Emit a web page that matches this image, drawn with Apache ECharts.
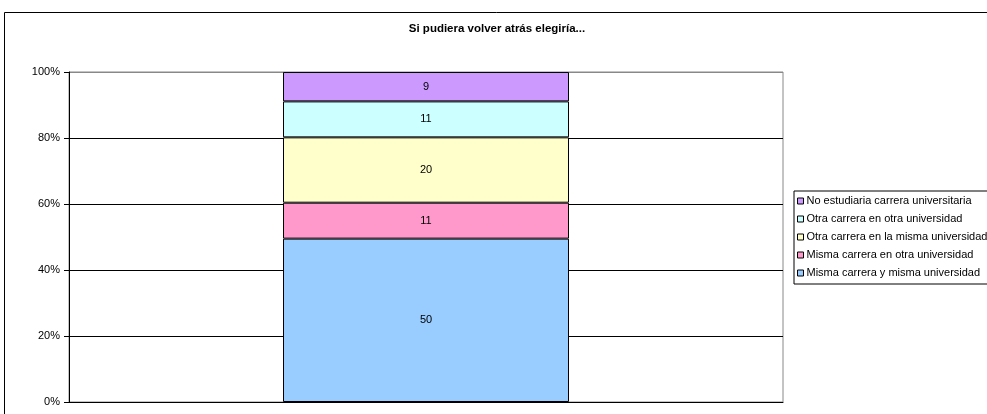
<!DOCTYPE html>
<html>
<head>
<meta charset="utf-8">
<script src="https://cdn.jsdelivr.net/npm/echarts@6/dist/echarts.min.js"></script>
<style>
html,body{margin:0;padding:0;background:#fff;}
#chart{width:987px;height:414px;}
</style>
</head>
<body>
<div id="chart"></div>
<script>
var titleText = 'Si pudiera volver atrás elegiría...';
var categories = [''];
var seriesNames = [
  'Misma carrera y misma universidad',
  'Misma carrera en otra universidad',
  'Otra carrera en la misma universidad',
  'Otra carrera en otra universidad',
  'No estudiaria carrera universitaria'
];
var seriesValues = [50, 11, 20, 11, 9];
var seriesColors = ['#99CCFF', '#FF99CC', '#FFFFCC', '#CCFFFF', '#CC99FF'];
var yTicks = [0, 20, 40, 60, 80, 100];

var total = seriesValues.reduce(function (a, b) { return a + b; }, 0);
var FONT = '"Liberation Sans", Arial, sans-serif';

var series = seriesNames.map(function (name, i) {
  return {
    name: name,
    type: 'bar',
    stack: 'total',
    barWidth: 286,
    data: [seriesValues[i] / total * 100],
    itemStyle: { color: seriesColors[i], borderColor: '#000', borderWidth: 1 },
    label: {
      show: true,
      position: 'inside',
      color: '#000',
      fontFamily: FONT,
      fontSize: 11,
      formatter: function () { return String(seriesValues[i]); }
    },
    emphasis: { disabled: true },
    animation: false
  };
});

var chart = echarts.init(document.getElementById('chart'), null, { renderer: 'canvas' });
chart.setOption({
  animation: false,
  backgroundColor: '#fff',
  title: {
    text: titleText,
    left: 497,
    textAlign: 'center',
    top: 23,
    padding: 0,
    textStyle: { fontFamily: FONT, fontSize: 11.5, fontWeight: 'bold', color: '#000' }
  },
  graphic: [{
    type: 'rect',
    shape: { x: 4.5, y: 12.5, width: 1100, height: 500 },
    style: { fill: null, stroke: '#000', lineWidth: 1 },
    silent: true,
    z: 100
  }],
  grid: {
    left: 69, right: 204, top: 72, bottom: 12,
    show: true, borderColor: '#888', borderWidth: 1, backgroundColor: '#fff'
  },
  legend: {
    orient: 'vertical',
    left: 794,
    top: 191,
    data: seriesNames.slice().reverse(),
    icon: 'rect',
    itemWidth: 6,
    itemHeight: 6,
    itemGap: 6,
    padding: [4, 4, 5, 3],
    borderColor: '#000',
    borderWidth: 1,
    backgroundColor: '#fff',
    itemStyle: { borderColor: '#000', borderWidth: 1 },
    textStyle: { fontFamily: FONT, fontSize: 11, color: '#000', lineHeight: 12, padding: [0, 0, 0, -2] },
    selectedMode: false
  },
  xAxis: {
    type: 'category',
    data: categories,
    axisLine: { show: true, lineStyle: { color: '#000' } },
    axisTick: { show: false },
    axisLabel: { show: false }
  },
  yAxis: {
    type: 'value',
    min: yTicks[0],
    max: yTicks[yTicks.length - 1],
    interval: 20,
    axisLine: { show: true, lineStyle: { color: '#000' } },
    axisTick: { show: true, inside: false, length: 5, lineStyle: { color: '#000' } },
    axisLabel: {
      formatter: '{value}%',
      margin: 9,
      fontFamily: FONT,
      fontSize: 11,
      color: '#000'
    },
    splitLine: { show: true, lineStyle: { color: ['#000', '#000', '#000', '#000', '#000', '#888'], width: 1 } }
  },
  series: series
});
</script>
</body>
</html>
